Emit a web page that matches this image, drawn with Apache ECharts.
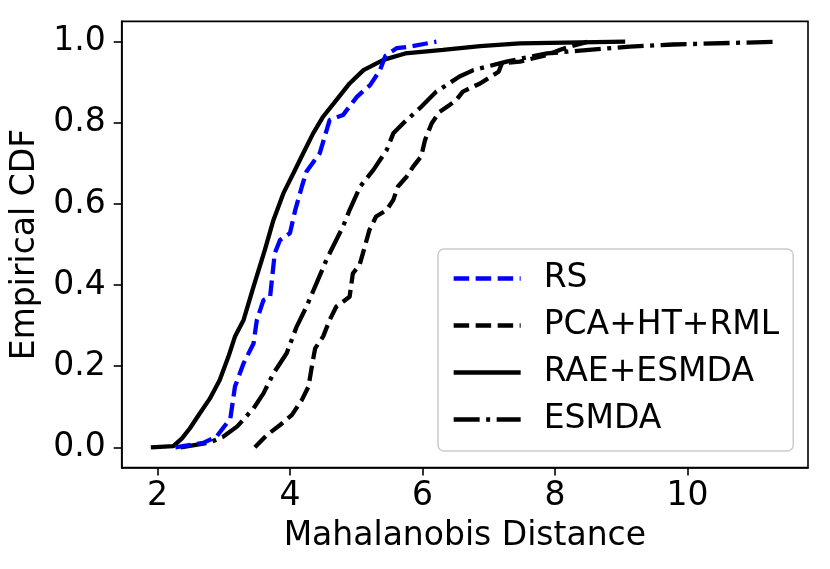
<!DOCTYPE html>
<html>
<head>
<meta charset="utf-8">
<script src="https://cdn.jsdelivr.net/npm/echarts@6/dist/echarts.min.js"></script>
<style>
  html, body { margin: 0; padding: 0; background: #fff; }
  #chart { width: 830px; height: 569px; }
</style>
</head>
<body>
<div id="chart"></div>
<script>
// values
var rsX = [2.27, 2.69, 2.89, 3.10, 3.17, 3.30, 3.45, 3.50, 3.60, 3.70, 3.77, 3.85, 4.00, 4.08, 4.18, 4.25, 4.45, 4.60, 4.80, 5.01, 5.21, 5.36, 5.44, 5.61, 5.81, 6.21];
var rsY = [0, 0.011, 0.026, 0.071, 0.15, 0.207, 0.256, 0.314, 0.363, 0.371, 0.478, 0.511, 0.528, 0.585, 0.643, 0.68, 0.725, 0.807, 0.819, 0.864, 0.893, 0.93, 0.965, 0.984, 0.988, 1.0];

var pcaX = [3.47, 3.65, 3.85, 4.03, 4.18, 4.28, 4.33, 4.38, 4.50, 4.60, 4.70, 4.80, 4.90, 4.95, 5.05, 5.13, 5.20, 5.30, 5.46, 5.56, 5.63, 5.76, 5.86, 5.98, 6.04, 6.14, 6.26, 6.41, 6.51, 6.61, 6.87, 7.15, 7.20, 7.47, 7.88, 8.08, 8.23, 8.50];
var pcaY = [0, 0.03, 0.055, 0.08, 0.117, 0.15, 0.199, 0.244, 0.273, 0.314, 0.347, 0.359, 0.371, 0.429, 0.449, 0.495, 0.536, 0.569, 0.585, 0.61, 0.643, 0.667, 0.692, 0.717, 0.758, 0.799, 0.827, 0.844, 0.856, 0.877, 0.897, 0.926, 0.947, 0.951, 0.967, 0.98, 0.988, 1.0];

var raeX = [1.90, 2.24, 2.37, 2.49, 2.64, 2.79, 2.94, 3.07, 3.17, 3.30, 3.45, 3.62, 3.75, 3.90, 4.05, 4.20, 4.35, 4.50, 4.70, 4.90, 5.11, 5.41, 5.74, 6.31, 6.87, 7.47, 9.06];
var raeY = [0, 0.003, 0.022, 0.047, 0.084, 0.12, 0.166, 0.223, 0.273, 0.314, 0.396, 0.486, 0.56, 0.626, 0.675, 0.725, 0.774, 0.815, 0.856, 0.897, 0.93, 0.955, 0.971, 0.98, 0.989, 0.996, 1.0];

var esX = [2.35, 2.79, 2.99, 3.20, 3.45, 3.60, 3.75, 3.95, 4.10, 4.25, 4.40, 4.55, 4.65, 4.80, 4.90, 5.06, 5.26, 5.46, 5.56, 5.71, 5.96, 6.21, 6.56, 6.77, 7.27, 7.88, 8.38, 9.13, 9.78, 10.7, 11.35];
var esY = [0, 0.012, 0.026, 0.051, 0.096, 0.133, 0.182, 0.232, 0.297, 0.347, 0.404, 0.462, 0.495, 0.544, 0.585, 0.643, 0.684, 0.733, 0.774, 0.799, 0.836, 0.877, 0.914, 0.93, 0.951, 0.971, 0.978, 0.988, 0.993, 0.997, 1.0];

var xTicks = [2, 4, 6, 8, 10];
var yTicks = [0, 0.2, 0.4, 0.6, 0.8, 1.0];

function pairs(xs, ys) {
    var out = [];
    for (var i = 0; i < xs.length; i++) {
        out.push([xs[i], ys[i]]);
    }
    return out;
}

var font = 'DejaVu Sans';
var chart = echarts.init(document.getElementById('chart'));
var option = {
    animation: false,
    grid: {
        left: 121.7,
        right: 22,
        top: 21.4,
        bottom: 101.4,
        show: true,
        borderColor: '#000',
        borderWidth: 1.6
    },
    legend: {
        orient: 'vertical',
        left: 438,
        top: 249,
        padding: [13, 14, 15, 13.5],
        itemWidth: 67,
        itemHeight: 20,
        itemGap: 14,
        backgroundColor: 'rgba(255,255,255,0.8)',
        borderColor: '#cccccc',
        borderWidth: 1.5,
        borderRadius: 6,
        itemStyle: { opacity: 0 },
        lineStyle: { width: 4.3 },
        textStyle: {
            fontFamily: font,
            fontSize: 33,
            color: '#000',
            padding: [0, 0, 0, 18]
        },
        data: ['RS', 'PCA+HT+RML', 'RAE+ESMDA', 'ESMDA']
    },
    xAxis: {
        type: 'value',
        min: 1.46,
        max: 11.82,
        name: 'Mahalanobis Distance',
        nameLocation: 'middle',
        nameGap: 52,
        nameTextStyle: { fontFamily: font, fontSize: 33, color: '#000' },
        splitLine: { show: false },
        axisLine: { onZero: false, lineStyle: { color: '#000', width: 1.6 } },
        axisTick: { customValues: xTicks, length: 8, lineStyle: { color: '#000', width: 1.6 } },
        axisLabel: {
            customValues: xTicks,
            margin: 12,
            fontFamily: font,
            fontSize: 33,
            color: '#000'
        }
    },
    yAxis: {
        type: 'value',
        min: -0.05,
        max: 1.05,
        name: 'Empirical CDF',
        nameLocation: 'middle',
        nameGap: 70,
        nameTextStyle: { fontFamily: font, fontSize: 33, color: '#000' },
        splitLine: { show: false },
        axisLine: { onZero: false, lineStyle: { color: '#000', width: 1.6 } },
        axisTick: { customValues: yTicks, length: 8, lineStyle: { color: '#000', width: 1.6 } },
        axisLabel: {
            customValues: yTicks,
            margin: 16,
            fontFamily: font,
            fontSize: 33,
            color: '#000',
            formatter: function (v) { return v.toFixed(1); }
        }
    },
    series: [
        {
            name: 'RS',
            type: 'line',
            symbol: 'none',
            z: 5,
            lineStyle: { color: '#0000ff', width: 4.3, type: [15.5, 6.5] },
            itemStyle: { color: '#0000ff' },
            data: pairs(rsX, rsY)
        },
        {
            name: 'PCA+HT+RML',
            type: 'line',
            symbol: 'none',
            lineStyle: { color: '#000', width: 4.3, type: [15.5, 6.5] },
            itemStyle: { color: '#000' },
            data: pairs(pcaX, pcaY)
        },
        {
            name: 'RAE+ESMDA',
            type: 'line',
            symbol: 'none',
            lineStyle: { color: '#000', width: 4.3 },
            itemStyle: { color: '#000' },
            data: pairs(raeX, raeY)
        },
        {
            name: 'ESMDA',
            type: 'line',
            symbol: 'none',
            lineStyle: { color: '#000', width: 4.3, type: [26, 6.5, 4, 6.5] },
            itemStyle: { color: '#000' },
            data: pairs(esX, esY)
        }
    ]
};
chart.setOption(option);
window.onresize = chart.resize;
</script>
</body>
</html>
